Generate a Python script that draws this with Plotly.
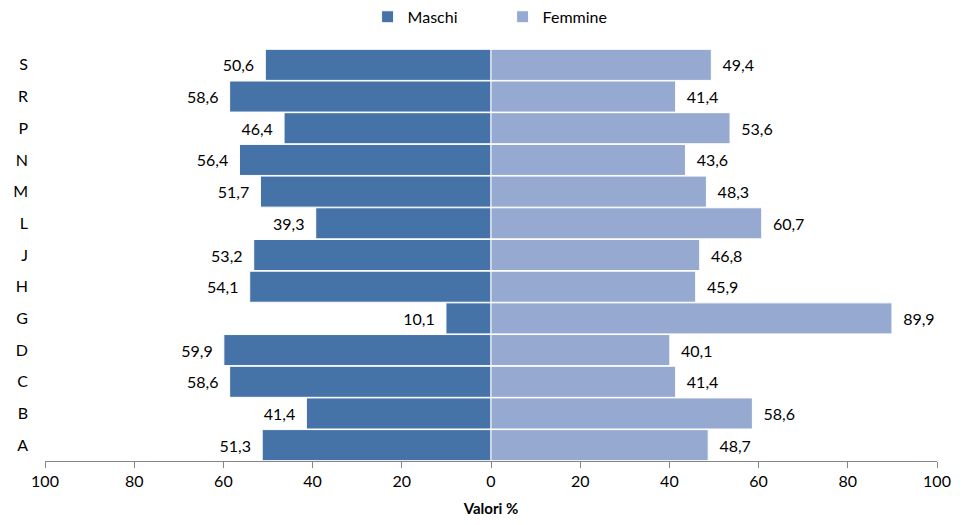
import plotly.graph_objects as go

categories = ["A", "B", "C", "D", "G", "H", "J", "L", "M", "N", "P", "R", "S"]
maschi = [51.3, 41.4, 58.6, 59.9, 10.1, 54.1, 53.2, 39.3, 51.7, 56.4, 46.4, 58.6, 50.6]
femmine = [48.7, 58.6, 41.4, 40.1, 89.9, 45.9, 46.8, 60.7, 48.3, 43.6, 53.6, 41.4, 49.4]
tick_vals = [-100, -80, -60, -40, -20, 0, 20, 40, 60, 80, 100]
tick_text = ["100", "80", "60", "40", "20", "0", "20", "40", "60", "80", "100"]

def fmt(v):
    return f"{v:.1f}".replace(".", ",")

FONT = "Lato, 'Open Sans', sans-serif"
NB = "\u00a0"

fig = go.Figure()
fig.add_trace(go.Bar(
    y=categories, x=[-v for v in maschi], orientation="h", name="Maschi",
    marker=dict(color="#4572A7", line=dict(color="white", width=1)),
    text=[fmt(v) + NB * 2 for v in maschi], textposition="outside",
    textfont=dict(size=16, color="#000000"), cliponaxis=False,
))
fig.add_trace(go.Bar(
    y=categories, x=femmine, orientation="h", name="Femmine",
    marker=dict(color="#95A9D1", line=dict(color="white", width=1)),
    text=[NB * 2 + fmt(v) for v in femmine], textposition="outside",
    textfont=dict(size=16, color="#000000"), cliponaxis=False,
))

fig.update_layout(
    width=969, height=525,
    barmode="relative", bargap=0.02,
    plot_bgcolor="white", paper_bgcolor="white",
    font=dict(family=FONT, size=16, color="#000000"),
    margin=dict(l=45, r=32, t=49, b=64, autoexpand=False),
    legend=dict(orientation="h", x=0.513, xanchor="center", y=1.078, yanchor="middle",
                font=dict(size=16), itemwidth=30, entrywidth=90, traceorder="normal"),
    xaxis=dict(range=[-100, 100], tickvals=tick_vals, ticktext=tick_text,
               showgrid=False, zeroline=False, showline=True, linecolor="#868686",
               linewidth=1, ticks="outside", ticklen=6, tickcolor="#868686",
               tickfont=dict(size=16), automargin=False,
               title=dict(text="<b>Valori %</b>", font=dict(size=15), standoff=14)),
    yaxis=dict(showgrid=False, zeroline=False, showline=False, ticks="",
               tickfont=dict(size=16), ticklabelstandoff=16, automargin=False),
)

fig.write_html("out.html", config={"displayModeBar": False},
               post_script="document.body.style.margin='0';document.body.style.padding='0';")
